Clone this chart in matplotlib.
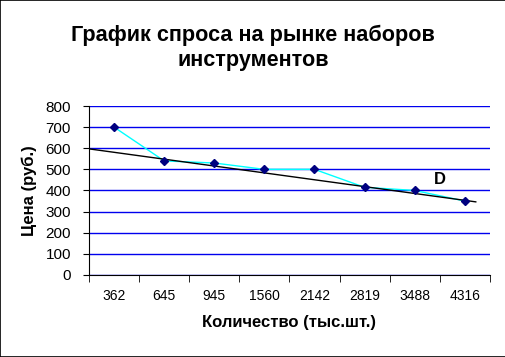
import numpy as np
import matplotlib.pyplot as plt
from matplotlib.patches import Rectangle

plt.rcParams['font.family'] = ['Liberation Sans', 'DejaVu Sans']

quantity = ['362', '645', '945', '1560', '2142', '2819', '3488', '4316']
price = [700, 540, 530, 500, 500, 415, 400, 350]

# linear trend line as drawn in the original (start/end positions on category axis)
trend_x = [-0.5, 7.22]
trend_y = [597, 346]

fig = plt.figure(figsize=(5.06, 3.57), dpi=100)
fig.patches.append(Rectangle((0, 0), 1, 1, transform=fig.transFigure,
                             fill=False, edgecolor='black', linewidth=1.2))
ax = fig.add_axes([0.176, 0.230, 0.792, 0.473])

x = np.arange(len(quantity))
ax.plot(x, price, color='cyan', linewidth=1, zorder=3)
ax.plot(x, price, linestyle='none', marker='D', markersize=4,
        color='#000080', zorder=4)
ax.plot(trend_x, trend_y, color='black', linewidth=1, zorder=3)
ax.text(6.5, 450, 'D', fontsize=12, fontweight='bold', ha='center', va='center')

ax.set_xlim(-0.5, 7.5)
ax.set_ylim(0, 800)
ax.set_yticks(range(0, 801, 100))
ax.set_xticks(x)
ax.set_xticklabels(quantity)
ax.set_xticks(np.arange(-0.5, 7.6, 1), minor=True)
ax.tick_params(axis='x', which='major', length=0, pad=10, labelsize=10)
ax.tick_params(axis='x', which='minor', length=5, direction='out')
ax.tick_params(axis='y', length=4, direction='out', labelsize=11, pad=9)

ax.yaxis.grid(True, color='#0000ee', linewidth=1)
ax.set_axisbelow(True)
ax.spines['top'].set_visible(False)
ax.spines['right'].set_visible(False)

ax.set_xlabel('Количество (тыс.шт.)', fontsize=12, fontweight='bold', labelpad=9)
ax.set_ylabel('Цена (руб.)', fontsize=12, fontweight='bold', labelpad=6)
fig.text(0.5, 0.93, 'График спроса на рынке наборов\nинструментов',
         ha='center', va='top', fontsize=15.6, fontweight='bold', linespacing=1.25)

fig.savefig('out.png', dpi=100)
